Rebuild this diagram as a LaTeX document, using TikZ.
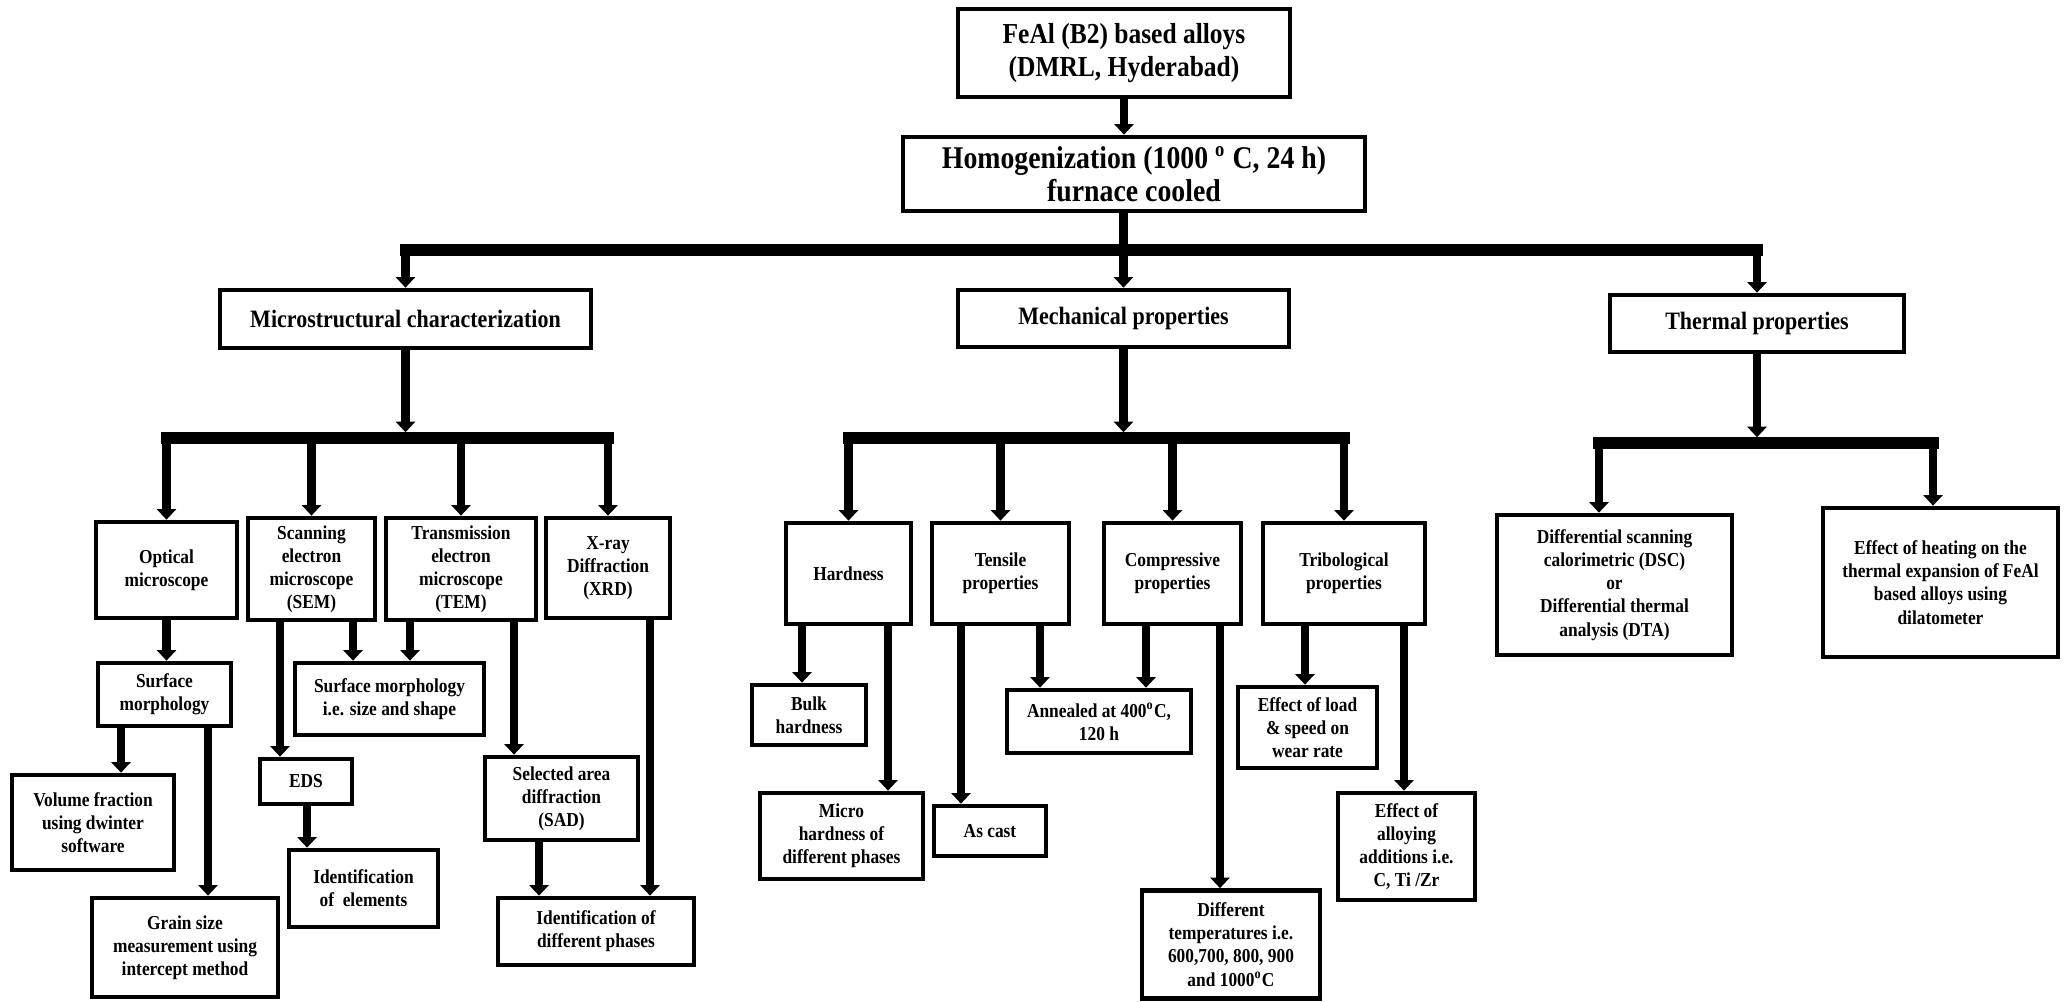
\documentclass[tikz,border=0pt]{standalone}
\usepackage{fontspec}
\setmainfont{Liberation Serif}[FakeStretch=0.88]
\usetikzlibrary{arrows.meta}

\begin{document}
\begin{tikzpicture}[x=0.38pt,y=-0.38pt,>={Triangle[length=4pt,width=7.5pt,line width=0pt]},
    box/.style={draw,line width=1.8pt,align=center,inner sep=1pt,font=\fontsize{7.5}{8.8}\selectfont\bfseries},
    sz/.style 2 args={minimum width=#1*0.38pt,minimum height=#2*0.38pt},
    head/.style={font=\fontsize{9.5}{11}\selectfont\bfseries},
    arr/.style={->,line width=3.1pt},
    drop/.style={arr,shorten >=2.2pt},
    bus/.style={line width=4.4pt,line cap=rect}]
  \useasboundingbox (0,0) rectangle (2067,1002);
  % top of the chart
  \node[box,sz={332}{88},font=\fontsize{11}{12.6}\selectfont\bfseries] (feal) at (1124,53) {FeAl (B2) based alloys\\(DMRL, Hyderabad)};
  \node[box,sz={462}{74},font=\fontsize{12}{12.5}\selectfont\bfseries] (homog) at (1134,174) {Homogenization (1000 \textsuperscript{o} C, 24 h)\\furnace cooled};
  \node[box,head,sz={371}{58}] (micro) at (405.5,319) {Microstructural characterization};
  \node[box,head,sz={331}{57}] (mech) at (1123.5,318.5) {Mechanical properties};
  \node[box,head,sz={294}{57}] (thermal) at (1757,323.5) {Thermal properties};
  % microstructure branch
  \node[box,sz={141}{96}] (optical) at (166.5,570) {Optical\\microscope};
  \node[box,sz={127}{102}] (sem) at (311.5,569) {Scanning\\electron\\microscope\\(SEM)};
  \node[box,sz={150}{102}] (tem) at (461,569) {Transmission\\electron\\microscope\\(TEM)};
  \node[box,sz={124}{100}] (xrd) at (608,568) {X-ray\\Diffraction\\(XRD)};
  \node[box,sz={133}{63}] (surfm) at (164.5,694.5) {Surface\\morphology};
  \node[box,sz={162}{95}] (volfrac) at (93,822.5) {Volume fraction\\using dwinter\\software};
  \node[box,sz={186}{99}] (grain) at (185,947.5) {Grain size\\measurement using\\intercept method};
  \node[box,sz={92}{45}] (eds) at (306,781.5) {EDS};
  \node[box,sz={189}{72}] (surfsize) at (389.5,699) {Surface morphology\\i.e. size and shape};
  \node[box,sz={149}{77}] (idelem) at (363.5,888.5) {Identification\\of~ elements};
  \node[box,sz={153}{83}] (sad) at (561.5,798.5) {Selected area\\diffraction\\(SAD)};
  \node[box,sz={196}{67}] (idphase) at (596,931.5) {Identification of\\different phases};
  % mechanical branch
  \node[box,sz={125}{101}] (hard) at (848.5,573.5) {Hardness};
  \node[box,sz={137}{101}] (tens) at (1000.5,573.5) {Tensile\\properties};
  \node[box,sz={137}{101}] (comp) at (1172.5,573.5) {Compressive\\properties};
  \node[box,sz={162}{101}] (trib) at (1344,573.5) {Tribological\\properties};
  \node[box,sz={114}{60}] (bulk) at (809,715) {Bulk\\hardness};
  \node[box,sz={163}{86}] (microh) at (841.5,836) {Micro\\hardness of\\different phases};
  \node[box,sz={112}{50}] (ascast) at (990,831) {As cast};
  \node[box,sz={184}{63}] (anneal) at (1099,721.5) {Annealed at 400\textsuperscript{o}C,\\120 h};
  \node[box,sz={178}{108}] (difftemp) at (1231,944.5) {Different\\temperatures i.e.\\600,700, 800, 900\\and 1000\textsuperscript{o}C};
  \node[box,sz={139}{81}] (load) at (1307.5,727.5) {Effect of load\\\& speed on\\wear rate};
  \node[box,sz={137}{107}] (alloying) at (1406.5,846.5) {Effect of\\alloying\\additions i.e.\\C, Ti /Zr};
  % thermal branch
  \node[box,sz={235}{140}] (dsc) at (1614.5,585) {Differential scanning\\calorimetric (DSC)\\or\\Differential thermal\\analysis (DTA)};
  \node[box,sz={235}{149}] (dilato) at (1940.5,582.5) {Effect of heating on the\\thermal expansion of FeAl\\based alloys using\\dilatometer};
  % buses
  \coordinate (b1) at (0,250);
  \coordinate (b2) at (0,438);
  \coordinate (t1) at (1599,443);
  \coordinate (t2) at (1933,443);
  \draw[arr] (feal) -- (feal |- homog.north);
  \draw[line width=3.1pt] (mech |- homog.south) -- (mech |- b1);
  \draw[bus] (micro |- b1) -- (thermal |- b1);
  \foreach \n in {micro,mech,thermal}
    \draw[arr] (\n |- b1) -- (\n);
  \draw[bus] (optical |- b2) -- (xrd |- b2);
  \draw[bus] (hard |- b2) -- (trib |- b2);
  \draw[bus] (t1) -- (t2);
  \draw[drop] (micro) -- (micro |- b2);
  \draw[drop] (mech) -- (mech |- b2);
  \draw[drop] (thermal) -- (thermal |- t1);
  \foreach \n in {optical,sem,tem,xrd,hard,tens,comp,trib}
    \draw[arr] (\n |- b2) -- (\n);
  \draw[arr] (t1) -- (t1 |- dsc.north);
  \draw[arr] (t2) -- (t2 |- dilato.north);
  % lower connectors
  \draw[arr] (optical) -- (optical |- surfm.north);
  \foreach \x/\a/\b in {121/surfm/volfrac,208/surfm/grain,280/sem/eds,353/sem/surfsize,
      410/tem/surfsize,514/tem/sad,307/eds/idelem,539/sad/idphase,650/xrd/idphase,
      802/hard/bulk,888/hard/microh,961/tens/ascast,1040/tens/anneal,1146/comp/anneal,
      1220/comp/difftemp,1305/trib/load,1404/trib/alloying}
    \draw[arr] (\x,0 |- \a.south) -- (\x,0 |- \b.north);
\end{tikzpicture}
\end{document}
